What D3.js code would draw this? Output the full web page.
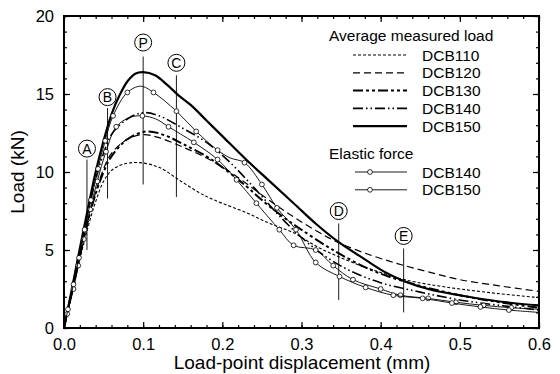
<!DOCTYPE html>
<html>
<head>
<meta charset="utf-8">
<script src="https://cdn.jsdelivr.net/npm/d3@7"></script>
<style>
  body { margin: 0; background: #fff; }
  text { font-family: "Liberation Sans", Arial, sans-serif; fill: #000; }
</style>
</head>
<body>
<div id="chart"></div>
<script>
// ==== Data ====
const dcb110 = [[0,0],[0.01,2.2],[0.02,4.4],[0.03,6.4],[0.04,8.1],[0.05,9.4],[0.06,10.1],[0.075,10.5],[0.095,10.6],[0.12,10.3],[0.145,9.5],[0.17,8.7],[0.19,8.2],[0.23,7.4],[0.26,6.7],[0.29,6.1],[0.32,5.2],[0.35,4.5],[0.38,3.9],[0.41,3.4],[0.43,3.1],[0.46,2.8],[0.5,2.5],[0.55,2.2],[0.6,1.95]];
const dcb120 = [[0,0],[0.01,2.3],[0.02,4.6],[0.03,6.8],[0.04,8.7],[0.05,10.2],[0.06,11.2],[0.08,12.1],[0.1,12.4],[0.12,12.2],[0.15,11.6],[0.18,10.9],[0.21,10.0],[0.24,8.9],[0.27,7.8],[0.3,6.8],[0.33,5.9],[0.35,5.4],[0.38,4.8],[0.41,4.3],[0.43,4.0],[0.46,3.6],[0.5,3.1],[0.55,2.7],[0.6,2.35]];
const dcb130 = [[0,0],[0.01,2.3],[0.02,4.6],[0.03,6.8],[0.04,8.6],[0.05,10.0],[0.06,11.0],[0.08,12.1],[0.105,12.6],[0.13,12.3],[0.15,11.8],[0.18,11.0],[0.2,10.3],[0.23,9.1],[0.25,8.2],[0.28,7.0],[0.3,6.3],[0.33,5.3],[0.35,4.7],[0.38,3.9],[0.41,3.3],[0.45,2.7],[0.5,2.1],[0.55,1.65],[0.6,1.3]];
const dcb140 = [[0,0],[0.01,2.5],[0.02,5.0],[0.03,7.4],[0.04,9.5],[0.05,11.2],[0.06,12.4],[0.08,13.4],[0.1,13.8],[0.12,13.6],[0.15,12.8],[0.18,11.9],[0.21,10.6],[0.24,9.0],[0.27,7.3],[0.3,5.8],[0.33,4.6],[0.36,3.7],[0.4,2.9],[0.45,2.3],[0.5,1.8],[0.55,1.45],[0.6,1.15]];
const dcb150 = [[0,0],[0.01,2.5],[0.02,5.1],[0.03,7.6],[0.04,10.0],[0.05,12.0],[0.06,13.7],[0.07,14.9],[0.08,15.8],[0.09,16.3],[0.1,16.4],[0.115,16.2],[0.13,15.6],[0.145,14.9],[0.16,14.3],[0.18,13.3],[0.2,12.3],[0.23,10.8],[0.26,9.4],[0.29,8.0],[0.32,6.6],[0.347,5.5],[0.38,4.4],[0.405,3.6],[0.43,3.0],[0.46,2.5],[0.5,2.1],[0.55,1.7],[0.6,1.45]];

// elastic force: [x, load, hasMarker]
const elastic140 = [[0,0,0],[0.004,0.9,1],[0.012,2.5,1],[0.018,4.0,1],[0.025,5.7,1],[0.033,7.6,1],[0.042,9.4,1],[0.053,11.3,1],[0.066,12.9,1],[0.083,13.5,0],[0.099,13.6,1],[0.116,13.4,0],[0.132,12.9,1],[0.164,11.9,1],[0.194,10.8,1],[0.218,9.5,1],[0.243,8.0,1],[0.272,6.3,1],[0.29,5.3,1],[0.318,5.0,1],[0.34,4.0,1],[0.365,3.1,1],[0.4,2.5,1],[0.425,2.1,1],[0.46,1.9,1],[0.495,1.65,1],[0.53,1.45,1],[0.565,1.3,1],[0.6,1.2,0]];
const elastic150 = [[0,0,0],[0.005,1.2,1],[0.012,2.8,1],[0.019,4.5,1],[0.026,6.3,1],[0.034,8.2,1],[0.043,10.2,1],[0.052,12.0,1],[0.062,13.6,1],[0.08,15.1,1],[0.097,15.5,0],[0.113,15.1,1],[0.142,13.9,1],[0.167,12.6,1],[0.194,11.4,1],[0.21,10.9,0],[0.228,10.6,1],[0.25,9.2,1],[0.269,7.7,1],[0.293,6.3,1],[0.318,4.2,1],[0.348,3.3,1],[0.381,2.6,1],[0.416,2.1,1],[0.453,1.9,1],[0.49,1.6,1],[0.526,1.35,1],[0.562,1.15,1],[0.6,1.0,0]];

const markerLabels = ["A", "B", "P", "C", "D", "E"];
const markerX      = [0.029, 0.055, 0.1, 0.142, 0.347, 0.429];
const markerTop    = [10.8, 14.1, 17.4, 16.2, 6.7, 5.1];
const markerBottom = [5.0, 8.3, 9.2, 8.4, 1.8, 1.0];
const markerLabelY = [11.5, 14.8, 18.3, 17.0, 7.5, 5.9];

const xTicks = [0, 0.1, 0.2, 0.3, 0.4, 0.5, 0.6];
const yTicks = [0, 5, 10, 15, 20];

const avgNames = ["DCB110", "DCB120", "DCB130", "DCB140", "DCB150"];
const elasticNames = ["DCB140", "DCB150"];

// ==== Layout ====
const W = 560, H = 374;
const margin = { top: 16, right: 21, bottom: 46, left: 64 };
const width = W - margin.left - margin.right;
const height = H - margin.top - margin.bottom;

const svg = d3.select("#chart").append("svg")
  .attr("width", W).attr("height", H);
const g = svg.append("g").attr("transform", `translate(${margin.left},${margin.top})`);

const x = d3.scaleLinear().domain([0, 0.6]).range([0, width]);
const y = d3.scaleLinear().domain([0, 20]).range([height, 0]);

// styles per measured series
const avgStyles = [
  { data: dcb110, dash: "3,2",               w: 1.1 },
  { data: dcb120, dash: "7,4",               w: 1.2 },
  { data: dcb130, dash: "10,3,3,3,3,3",      w: 2.0 },
  { data: dcb140, dash: "10,3,1.5,3,1.5,3",  w: 1.6 },
  { data: dcb150, dash: null,                w: 2.2 }
];

const line = d3.line()
  .x(d => x(d[0])).y(d => y(d[1]))
  .curve(d3.curveCatmullRom.alpha(0.5));

// ==== Axes (ticks inside, on all sides) ====
function axisMinor(axis, sel, ticks) {
  sel.call(axis.tickValues(ticks).tickFormat("").tickSizeOuter(0));
}
const xMinor = d3.range(0, 0.6001, 0.02);
const yMinor = d3.range(0, 20.001, 1);

g.append("g").attr("transform", `translate(0,${height})`)
  .call(d3.axisBottom(x).tickValues(xTicks).tickSize(-6).tickSizeOuter(0).tickFormat(d3.format(".1f")))
  .call(s => s.selectAll("text").attr("y", 10).attr("dy", "0.71em").style("font-size", "16.5px"));
axisMinor(d3.axisBottom(x).tickSize(-3), g.append("g").attr("transform", `translate(0,${height})`), xMinor);
g.append("g").call(d3.axisTop(x).tickValues(xTicks).tickSize(-6).tickSizeOuter(0).tickFormat(""));
axisMinor(d3.axisTop(x).tickSize(-3), g.append("g"), xMinor);

g.append("g")
  .call(d3.axisLeft(y).tickValues(yTicks).tickSize(-6).tickSizeOuter(0))
  .call(s => s.selectAll("text").attr("x", -10).style("font-size", "16.5px"));
axisMinor(d3.axisLeft(y).tickSize(-3), g.append("g"), yMinor);
g.append("g").attr("transform", `translate(${width},0)`)
  .call(d3.axisRight(y).tickValues(yTicks).tickSize(-6).tickSizeOuter(0).tickFormat(""));
axisMinor(d3.axisRight(y).tickSize(-3), g.append("g").attr("transform", `translate(${width},0)`), yMinor);

g.selectAll(".domain").remove();
g.selectAll(".tick line").attr("stroke", "#000").attr("stroke-width", 1.2);

g.append("rect")
  .attr("width", width).attr("height", height)
  .attr("fill", "none").attr("stroke", "#000").attr("stroke-width", 2);

// axis titles
svg.append("text")
  .attr("x", 302).attr("y", 369)
  .attr("text-anchor", "middle").style("font-size", "19px")
  .text("Load-point displacement (mm)");
svg.append("text")
  .attr("transform", `translate(24,${margin.top + height / 2}) rotate(-90)`)
  .attr("text-anchor", "middle").style("font-size", "19px")
  .text("Load (kN)");

// ==== Marker lines ====
markerLabels.forEach((lab, i) => {
  g.append("line")
    .attr("x1", x(markerX[i])).attr("x2", x(markerX[i]))
    .attr("y1", y(markerTop[i])).attr("y2", y(markerBottom[i]))
    .attr("stroke", "#000").attr("stroke-width", 0.9);
  g.append("circle")
    .attr("cx", x(markerX[i])).attr("cy", y(markerLabelY[i])).attr("r", 8.5)
    .attr("fill", "#fff").attr("stroke", "#000").attr("stroke-width", 1);
  g.append("text")
    .attr("x", x(markerX[i])).attr("y", y(markerLabelY[i]) + 5)
    .attr("text-anchor", "middle").style("font-size", "14px")
    .text(lab);
});

// ==== Measured curves ====
avgStyles.forEach(s => {
  g.append("path")
    .attr("d", line(s.data))
    .attr("fill", "none").attr("stroke", "#000")
    .attr("stroke-width", s.w)
    .attr("stroke-dasharray", s.dash);
});

// ==== Elastic force curves ====
[elastic140, elastic150].forEach(data => {
  g.append("path")
    .attr("d", line(data))
    .attr("fill", "none").attr("stroke", "#000").attr("stroke-width", 0.9);
  g.selectAll(null)
    .data(data.filter(d => d[2]))
    .enter().append("circle")
      .attr("cx", d => x(d[0])).attr("cy", d => y(d[1])).attr("r", 2.4)
      .attr("fill", "#fff").attr("stroke", "#000").attr("stroke-width", 0.8);
});

// ==== Legend ====
const leg = svg.append("g");
leg.append("text").attr("x", 329).attr("y", 41).style("font-size", "15.5px").text("Average measured load");
avgNames.forEach((n, i) => {
  const yy = 55 + i * 17.8;
  leg.append("line")
    .attr("x1", 353).attr("x2", 407).attr("y1", yy).attr("y2", yy)
    .attr("stroke", "#000").attr("stroke-width", avgStyles[i].w)
    .attr("stroke-dasharray", avgStyles[i].dash);
  leg.append("text").attr("x", 422).attr("y", yy + 5.5).style("font-size", "15.5px").text(n);
});
leg.append("text").attr("x", 329).attr("y", 159).style("font-size", "15.5px").text("Elastic force");
elasticNames.forEach((n, i) => {
  const yy = 172 + i * 17.8;
  leg.append("line")
    .attr("x1", 355).attr("x2", 407).attr("y1", yy).attr("y2", yy)
    .attr("stroke", "#000").attr("stroke-width", 0.9);
  leg.append("circle")
    .attr("cx", 370).attr("cy", yy).attr("r", 2.4)
    .attr("fill", "#fff").attr("stroke", "#000").attr("stroke-width", 0.8);
  leg.append("text").attr("x", 422).attr("y", yy + 5.5).style("font-size", "15.5px").text(n);
});
</script>
</body>
</html>
